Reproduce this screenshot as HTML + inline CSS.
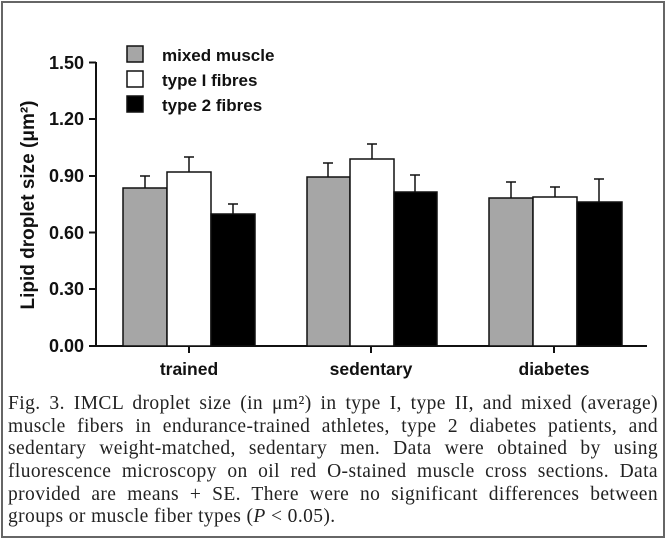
<!DOCTYPE html>
<html><head><meta charset="utf-8"><style>
html,body{margin:0;padding:0;background:#fff;}
#wrap{position:relative;width:666px;height:540px;overflow:hidden;}
.cap{position:absolute;left:8px;width:650px;font-family:"Liberation Serif",serif;font-size:19.5px;letter-spacing:0.4px;line-height:21px;text-align:justify;text-align-last:justify;white-space:nowrap;color:#222;}
.cap.last{text-align-last:left;}
svg text{font-family:"Liberation Sans",sans-serif;font-weight:bold;fill:#111;}
</style></head><body><div id="wrap">
<svg width="666" height="540" style="position:absolute;left:0;top:0">
<rect x="2" y="2" width="662" height="535" fill="none" stroke="#666" stroke-width="2"/>
<g stroke="#111" stroke-width="2">
<line x1="96" y1="62" x2="96" y2="346"/>
<line x1="89" y1="62.5" x2="96" y2="62.5"/>
<line x1="89" y1="119" x2="96" y2="119"/>
<line x1="89" y1="176" x2="96" y2="176"/>
<line x1="89" y1="232.5" x2="96" y2="232.5"/>
<line x1="89" y1="289" x2="96" y2="289"/>
<line x1="89" y1="346" x2="647" y2="346"/>
<line x1="189" y1="346" x2="189" y2="353"/>
<line x1="371" y1="346" x2="371" y2="353"/>
<line x1="554" y1="346" x2="554" y2="353"/>
</g>
<g font-size="18" text-anchor="end">
<text x="84" y="69">1.50</text><text x="84" y="125">1.20</text><text x="84" y="182">0.90</text>
<text x="84" y="239">0.60</text><text x="84" y="295">0.30</text><text x="84" y="352">0.00</text>
</g>
<text transform="translate(34,205) rotate(-90)" font-size="19" text-anchor="middle">Lipid droplet size (μm²)</text>
<g font-size="17.5" text-anchor="middle">
<text x="189" y="375">trained</text><text x="371" y="375">sedentary</text><text x="554" y="375">diabetes</text>
</g>
<g stroke="#111" stroke-width="1.5">
<rect x="123" y="188" width="44" height="158" fill="#a6a6a6"/>
<rect x="167" y="172" width="44" height="174" fill="#fff"/>
<rect x="211" y="214" width="44" height="132" fill="#000"/>
<rect x="307" y="177" width="43" height="169" fill="#a6a6a6"/>
<rect x="350" y="159" width="44" height="187" fill="#fff"/>
<rect x="394" y="192" width="43" height="154" fill="#000"/>
<rect x="489" y="198" width="44" height="148" fill="#a6a6a6"/>
<rect x="533" y="197" width="44" height="149" fill="#fff"/>
<rect x="577" y="202" width="45" height="144" fill="#000"/>
<path fill="none" d="M145 188V176M140 176H150 M189 172V157M184 157H194 M233 214V204M228 204H238 M328 177V163M323 163H333 M372 159V144M367 144H377 M415 192V175M410 175H420 M511 198V182M506 182H516 M555 197V187M550 187H560 M599 202V179M594 179H604"/>
<rect x="127" y="46" width="16" height="16" fill="#a6a6a6"/>
<rect x="127" y="71" width="16" height="16" fill="#fff"/>
<rect x="127" y="96" width="16" height="16" fill="#000"/>
</g>
<g font-size="17">
<text x="162" y="61">mixed muscle</text><text x="162" y="86">type I fibres</text><text x="162" y="111">type 2 fibres</text>
</g>
</svg>
<div class="cap" style="top:393px">Fig. 3. IMCL droplet size (in μm²) in type I, type II, and mixed (average)</div>
<div class="cap" style="top:416px">muscle fibers in endurance-trained athletes, type 2 diabetes patients, and</div>
<div class="cap" style="top:438px">sedentary weight-matched, sedentary men. Data were obtained by using</div>
<div class="cap" style="top:461px">fluorescence microscopy on oil red O-stained muscle cross sections. Data</div>
<div class="cap" style="top:484px">provided are means + SE. There were no significant differences between</div>
<div class="cap last" style="top:506px">groups or muscle fiber types (<i>P</i> &lt; 0.05).</div>
</div></body></html>
